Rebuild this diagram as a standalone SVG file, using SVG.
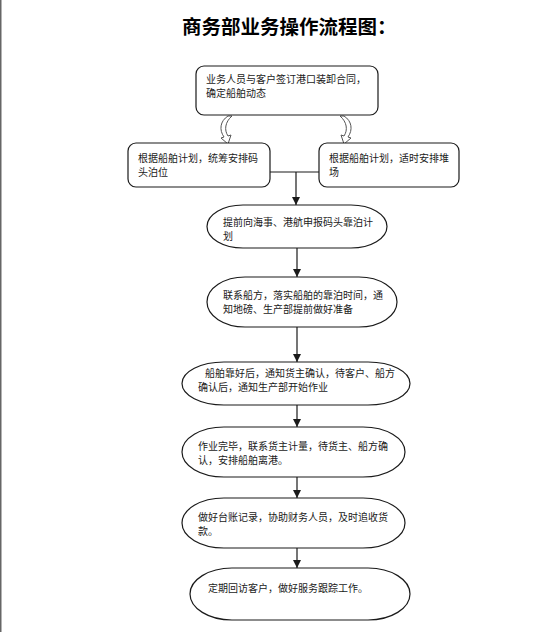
<svg xmlns="http://www.w3.org/2000/svg" width="547" height="632" viewBox="0 0 547 632">
<style>
.box{fill:#fff;stroke:#1a1a1a;stroke-width:1.2}
.t{font-family:"Noto Sans CJK SC","Noto Sans",sans-serif;font-size:10px;fill:#1a1a1a}
.title{font-family:"Noto Sans CJK SC","Noto Sans",sans-serif;font-size:19.5px;font-weight:bold;fill:#000}
.ln{fill:none;stroke:#1a1a1a;stroke-width:1.2}
.curv{fill:#fff;stroke:#555;stroke-width:1}
</style>
<defs>
<marker id="ah" viewBox="0 0 10 10" refX="10" refY="5" markerWidth="8" markerHeight="8" markerUnits="userSpaceOnUse" orient="auto">
<path d="M0,0 L10,5 L0,10 Z" fill="#1a1a1a"/>
</marker>
</defs>
<rect x="0" y="0" width="547" height="632" fill="#fff"/>
<rect x="0" y="0" width="1.5" height="632" fill="#666"/>
<text class="title" x="182" y="34">商务部业务操作流程图：</text>

<g id="connectors">
<path class="curv" d="M228,116 C220,121 219,130 224,137 L221,138 L228,144 L231,135 L228,136 C224,130 225,122 232,116 Z"/>
<path class="curv" d="M344,116 C352,121 353,130 348,137 L351,138 L344,144 L341,135 L344,136 C348,130 347,122 340,116 Z"/>
<path class="ln" d="M270,172 H319"/>
<path class="ln" d="M296,172 V205" marker-end="url(#ah)"/>
<path class="ln" d="M297,248 V277" marker-end="url(#ah)"/>
<path class="ln" d="M297,327 V362" marker-end="url(#ah)"/>
<path class="ln" d="M297,405 V427" marker-end="url(#ah)"/>
<path class="ln" d="M297,477 V498" marker-end="url(#ah)"/>
<path class="ln" d="M297,548 V568" marker-end="url(#ah)"/>
</g>

<g id="n1">
<rect class="box" x="196" y="66" width="182" height="49" rx="8"/>
<text class="t" x="206" y="83">业务人员与客户签订港口装卸合同，</text>
<text class="t" x="206" y="97">确定船舶动态</text>
</g>
<g id="n2">
<rect class="box" x="128" y="143" width="142" height="44" rx="8"/>
<text class="t" x="138" y="162">根据船舶计划，统筹安排码</text>
<text class="t" x="138" y="176">头泊位</text>
</g>
<g id="n3">
<rect class="box" x="319" y="143" width="140" height="44" rx="8"/>
<text class="t" x="329" y="162">根据船舶计划，适时安排堆</text>
<text class="t" x="329" y="176">场</text>
</g>
<g id="n4">
<rect class="box" x="207" y="205" width="180" height="43" rx="36" ry="21.5"/>
<text class="t" x="223" y="226">提前向海事、港航申报码头靠泊计</text>
<text class="t" x="223" y="240">划</text>
</g>
<g id="n5">
<rect class="box" x="207" y="277" width="190" height="50" rx="38" ry="25"/>
<text class="t" x="223" y="299">联系船方，落实船舶的靠泊时间，通</text>
<text class="t" x="223" y="313">知地磅、生产部提前做好准备</text>
</g>
<g id="n6">
<rect class="box" x="182" y="362" width="228" height="43" rx="42" ry="21.5"/>
<text class="t" x="205" y="377">船舶靠好后，通知货主确认，待客户、船方</text>
<text class="t" x="198" y="391">确认后，通知生产部开始作业</text>
</g>
<g id="n7">
<rect class="box" x="182" y="427" width="223" height="50" rx="42" ry="25"/>
<text class="t" x="198" y="450">作业完毕，联系货主计量，待货主、船方确</text>
<text class="t" x="198" y="464">认，安排船舶离港。</text>
</g>
<g id="n8">
<rect class="box" x="182" y="498" width="223" height="50" rx="42" ry="25"/>
<text class="t" x="198" y="520.5">做好台账记录，协助财务人员，及时追收货</text>
<text class="t" x="198" y="534.5">款。</text>
</g>
<g id="n9">
<rect class="box" x="190" y="568" width="220" height="52" rx="42" ry="26"/>
<text class="t" x="208" y="592">定期回访客户，做好服务跟踪工作。</text>
</g>
</svg>
